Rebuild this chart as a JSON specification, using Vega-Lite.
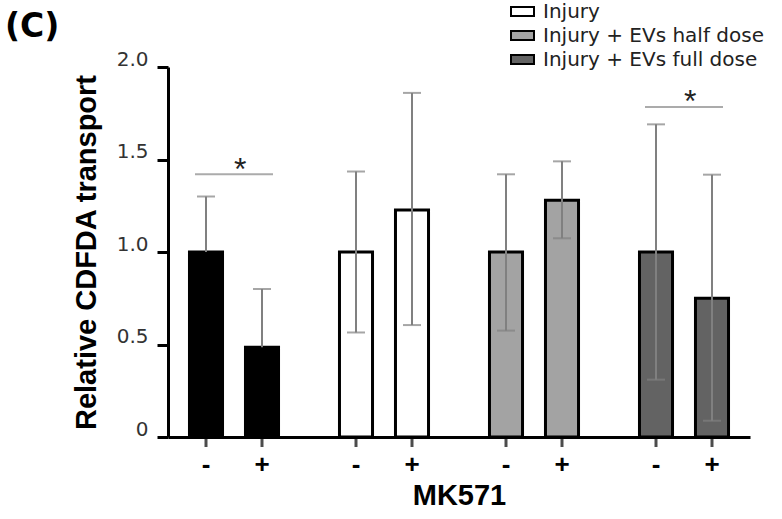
{
  "$schema": "https://vega.github.io/schema/vega-lite/v6.json",
  "width": 582,
  "height": 370,
  "autosize": {"type": "none"},
  "padding": {"left": 168, "top": 67, "right": 32, "bottom": 82},
  "background": "white",
  "config": {"view": {"stroke": null}, "font": "Liberation Sans"},
  "title": {"text": "(C)", "anchor": "start", "frame": "group", "orient": "top", "dx": -163, "dy": 45, "offset": 0, "font": "DejaVu Sans", "fontSize": 33, "fontWeight": "bold", "color": "black"},
  "datasets": {
    "bars": [
      {"group": "Control", "mk": "-", "mean": 1.0, "lo": 1.0, "hi": 1.3},
      {"group": "Control", "mk": "+", "mean": 0.485, "lo": 0.485, "hi": 0.8},
      {"group": "Injury", "mk": "-", "mean": 1.0, "lo": 0.565, "hi": 1.435},
      {"group": "Injury", "mk": "+", "mean": 1.227, "lo": 0.605, "hi": 1.86},
      {"group": "Injury + EVs half dose", "mk": "-", "mean": 1.0, "lo": 0.575, "hi": 1.42},
      {"group": "Injury + EVs half dose", "mk": "+", "mean": 1.28, "lo": 1.074, "hi": 1.49},
      {"group": "Injury + EVs full dose", "mk": "-", "mean": 1.0, "lo": 0.31, "hi": 1.69},
      {"group": "Injury + EVs full dose", "mk": "+", "mean": 0.75, "lo": 0.088, "hi": 1.418}
    ],
    "sig": [
      {"group": "Control", "line": 1.42, "star": 1.39},
      {"group": "Injury + EVs full dose", "line": 1.784, "star": 1.757}
    ]
  },
  "encoding": {
    "x": {
      "field": "group",
      "type": "nominal",
      "scale": {"domain": ["Control", "Injury", "Injury + EVs half dose", "Injury + EVs full dose"], "paddingInner": 0.3, "paddingOuter": 0.09},
      "axis": {"title": "MK571", "labels": false, "ticks": false, "domainWidth": 3, "domainColor": "black", "titleFont": "Liberation Sans", "titleFontSize": 29, "titleFontWeight": "bold", "titleColor": "black", "titlePadding": 44}
    }
  },
  "layer": [
    {
      "data": {"name": "bars"},
      "mark": {"type": "bar", "stroke": "black", "strokeWidth": 3},
      "encoding": {
        "xOffset": {"field": "mk", "type": "nominal", "scale": {"domain": ["-", "+"], "paddingInner": 0.41, "paddingOuter": 0.1425}},
        "y": {
          "field": "mean",
          "type": "quantitative",
          "scale": {"domain": [0, 2], "nice": false},
          "axis": {"title": "Relative CDFDA transport", "values": [0, 0.5, 1, 1.5, 2], "labelExpr": "datum.value == 0 ? '0' : format(datum.value, '.1f')", "labelFont": "DejaVu Sans", "labelFontSize": 20, "labelColor": "#333333", "labelPadding": 9, "labelBaseline": "alphabetic", "labelOffset": -2, "tickSize": 11, "tickWidth": 3, "tickColor": "black", "domainWidth": 3, "domainColor": "black", "grid": false, "titleFont": "Liberation Sans", "titleFontSize": 29, "titleFontWeight": "bold", "titleColor": "black", "titlePadding": 15}
        },
        "fill": {
          "field": "group",
          "type": "nominal",
          "scale": {"domain": ["Control", "Injury", "Injury + EVs half dose", "Injury + EVs full dose"], "range": ["#000000", "#ffffff", "#a3a3a3", "#636363"]},
          "legend": {"values": ["Injury", "Injury + EVs half dose", "Injury + EVs full dose"], "orient": "none", "legendX": 342, "legendY": -68, "title": null, "labelFont": "DejaVu Sans", "labelFontSize": 20, "labelColor": "#222222", "labelLimit": 400, "symbolType": "M-1,-0.4H1V0.4H-1Z", "symbolSize": 529, "symbolStrokeColor": "black", "symbolStrokeWidth": 2, "symbolOpacity": 1, "labelOffset": 8, "rowPadding": 1, "padding": 0, "symbolOffset": 0}
        }
      }
    },
    {
      "data": {"name": "bars"},
      "mark": {"type": "rule", "color": "#808080", "strokeWidth": 2},
      "encoding": {
        "xOffset": {"field": "mk", "type": "nominal"},
        "y": {"field": "lo", "type": "quantitative"},
        "y2": {"field": "hi"}
      }
    },
    {
      "data": {"name": "bars"},
      "mark": {"type": "tick", "color": "#808080", "thickness": 2, "size": 18},
      "encoding": {
        "xOffset": {"field": "mk", "type": "nominal"},
        "y": {"field": "hi", "type": "quantitative"}
      }
    },
    {
      "data": {"name": "bars"},
      "transform": [{"filter": "datum.lo < datum.mean"}],
      "mark": {"type": "tick", "color": "#808080", "thickness": 2, "size": 18},
      "encoding": {
        "xOffset": {"field": "mk", "type": "nominal"},
        "y": {"field": "lo", "type": "quantitative"}
      }
    },
    {
      "data": {"name": "bars"},
      "mark": {"type": "tick", "orient": "vertical", "color": "black", "thickness": 3, "size": 10, "yOffset": 5},
      "encoding": {
        "xOffset": {"field": "mk", "type": "nominal"},
        "y": {"datum": 0, "type": "quantitative"}
      }
    },
    {
      "data": {"name": "bars"},
      "mark": {"type": "text", "font": "Liberation Sans", "fontSize": 26, "fontWeight": "bold", "color": "black", "baseline": "alphabetic", "dy": 36},
      "encoding": {
        "xOffset": {"field": "mk", "type": "nominal"},
        "y": {"datum": 0, "type": "quantitative"},
        "text": {"field": "mk"}
      }
    },
    {
      "data": {"name": "sig"},
      "mark": {"type": "tick", "color": "#888888", "thickness": 2, "size": 78},
      "encoding": {
        "x": {"field": "group", "type": "nominal", "bandPosition": 0.56},
        "y": {"field": "line", "type": "quantitative"}
      }
    },
    {
      "data": {"name": "sig"},
      "mark": {"type": "text", "font": "Liberation Sans", "fontSize": 32, "color": "#222222", "baseline": "alphabetic"},
      "encoding": {
        "x": {"field": "group", "type": "nominal", "bandPosition": 0.56},
        "y": {"field": "star", "type": "quantitative"},
        "text": {"value": "*"}
      }
    }
  ]
}
